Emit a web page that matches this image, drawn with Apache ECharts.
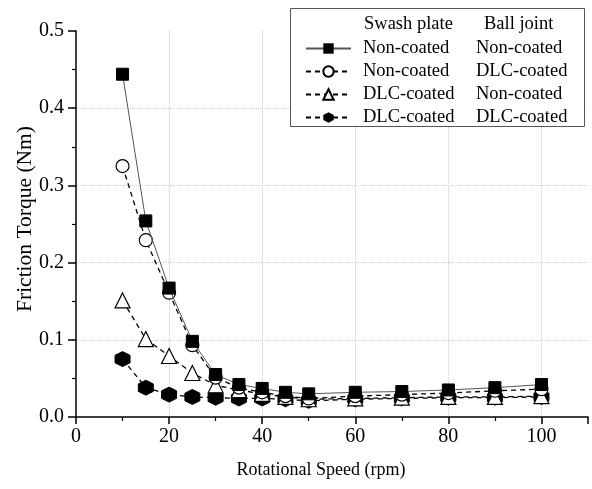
<!DOCTYPE html>
<html>
<head>
<meta charset="utf-8">
<script src="https://cdn.jsdelivr.net/npm/echarts@6/dist/echarts.min.js"></script>
<style>
  html, body { margin: 0; padding: 0; background: #fff; }
  #chart { width: 592px; height: 489px; }
</style>
</head>
<body>
<div id="chart"></div>
<script>
// rotational speed (rpm)
const speeds = [10, 15, 20, 25, 30, 35, 40, 45, 50, 60, 70, 80, 90, 100]

// friction torque (Nm)
const nonNon = [0.444, 0.254, 0.167, 0.098, 0.055, 0.042, 0.037, 0.032, 0.030, 0.032, 0.033, 0.035, 0.038, 0.042]
const nonDlc = [0.325, 0.229, 0.161, 0.093, 0.051, 0.038, 0.032, 0.027, 0.024, 0.027, 0.029, 0.031, 0.034, 0.036]
const dlcNon = [0.151, 0.101, 0.079, 0.057, 0.041, 0.035, 0.030, 0.026, 0.023, 0.024, 0.025, 0.026, 0.026, 0.027]
const dlcDlc = [0.075, 0.038, 0.029, 0.026, 0.025, 0.024, 0.024, 0.023, 0.021, 0.023, 0.024, 0.025, 0.025, 0.026]

// legend: swash plate / ball joint
const swash = ['Non-coated', 'Non-coated', 'DLC-coated', 'DLC-coated']
const joint = ['Non-coated', 'DLC-coated', 'Non-coated', 'DLC-coated']
const names = swash.map((s, i) => s + ' / ' + joint[i])

const FONT = '"Liberation Serif", "Times New Roman", serif'
const hexagon = 'path://M0,-1 L0.866,-0.5 L0.866,0.5 L0,1 L-0.866,0.5 L-0.866,-0.5 Z'

const pairs = (ys) => speeds.map((x, i) => [x, ys[i]])

const chart = echarts.init(document.getElementById('chart'))
chart.setOption({
  animation: false,
  textStyle: { fontFamily: FONT },
  grid: { left: 76, top: 31, right: 4, bottom: 72, outerBoundsMode: 'none' },
  xAxis: {
    type: 'value', min: 0, max: 110, interval: 20,
    name: 'Rotational Speed (rpm)', nameLocation: 'middle', nameGap: 44,
    nameTextStyle: { color: '#000', fontSize: 18, fontFamily: FONT, padding: [0, 22, 0, 0] },
    axisLine: { onZero: false, lineStyle: { color: '#000', width: 1.5 } },
    axisTick: { length: 7, lineStyle: { color: '#000', width: 1.5 } },
    minorTick: { show: true, splitNumber: 2, length: 4, lineStyle: { color: '#000', width: 1.2 } },
    axisLabel: { color: '#000', fontSize: 20, fontFamily: FONT, margin: 10, showMaxLabel: false },
    splitLine: { show: true, showMinLine: false, showMaxLine: false,
      lineStyle: { color: '#cfcfcf', type: 'dotted', width: 1 } },
  },
  yAxis: {
    type: 'value', min: 0, max: 0.5, interval: 0.1,
    name: 'Friction Torque (Nm)', nameLocation: 'middle', nameGap: 40, nameMoveOverlap: false,
    nameTextStyle: { color: '#000', fontSize: 21.5, fontFamily: FONT, padding: [0, 0, 0, 10] },
    axisLine: { show: true, lineStyle: { color: '#000', width: 1.5 } },
    axisTick: { show: true, length: 8, lineStyle: { color: '#000', width: 1.5 } },
    minorTick: { show: true, splitNumber: 2, length: 4, lineStyle: { color: '#000', width: 1.2 } },
    axisLabel: { color: '#000', fontSize: 20, fontFamily: FONT, margin: 12,
      formatter: (v) => v.toFixed(1) },
    splitLine: { show: true, showMinLine: false, showMaxLine: false,
      lineStyle: { color: '#cfcfcf', type: 'dotted', width: 1 } },
  },
  graphic: [
    { type: 'rect', left: 290, top: 8, shape: { width: 294, height: 118 },
      style: { fill: '#fff', stroke: '#555', lineWidth: 1 }, z: 10 },
    { type: 'text', left: 364, top: 15, z: 11,
      style: { text: 'Swash plate', font: '18.5px ' + FONT, fill: '#000' } },
    { type: 'text', left: 484, top: 15, z: 11,
      style: { text: 'Ball joint', font: '18.5px ' + FONT, fill: '#000' } },
  ],
  legend: {
    orient: 'vertical', left: 300, top: 34, z: 12,
    itemWidth: 45, itemHeight: 13, itemGap: 4,
    data: names,
    textStyle: { color: '#000', fontSize: 18.5, fontFamily: FONT, padding: [0, 0, 0, 7],
      rich: { a: { width: 113, fontSize: 18.5, fontFamily: FONT }, b: { fontSize: 18.5, fontFamily: FONT } } },
    formatter: (n) => {
      const i = names.indexOf(n)
      return '{a|' + swash[i] + '}{b|' + joint[i] + '}'
    },
  },
  series: [
    { name: names[0], type: 'line', data: pairs(nonNon),
      symbol: 'rect', symbolSize: 12,
      itemStyle: { color: '#000', borderColor: '#000' },
      lineStyle: { color: '#555', width: 1, type: 'solid' }, z: 5 },
    { name: names[1], type: 'line', data: pairs(nonDlc),
      symbol: 'circle', symbolSize: 13,
      itemStyle: { color: '#fff', borderColor: '#000', borderWidth: 1.2 },
      lineStyle: { color: '#000', width: 1.3, type: [5, 4] }, z: 4 },
    { name: names[2], type: 'line', data: pairs(dlcNon),
      symbol: 'triangle', symbolSize: 15,
      itemStyle: { color: '#fff', borderColor: '#000', borderWidth: 1.2 },
      lineStyle: { color: '#000', width: 1.3, type: [5, 4] }, z: 3 },
    { name: names[3], type: 'line', data: pairs(dlcDlc),
      symbol: hexagon, symbolSize: 15,
      itemStyle: { color: '#000', borderColor: '#000' },
      lineStyle: { color: '#000', width: 1.3, type: [5, 4] }, z: 2 },
  ],
})
</script>
</body>
</html>
